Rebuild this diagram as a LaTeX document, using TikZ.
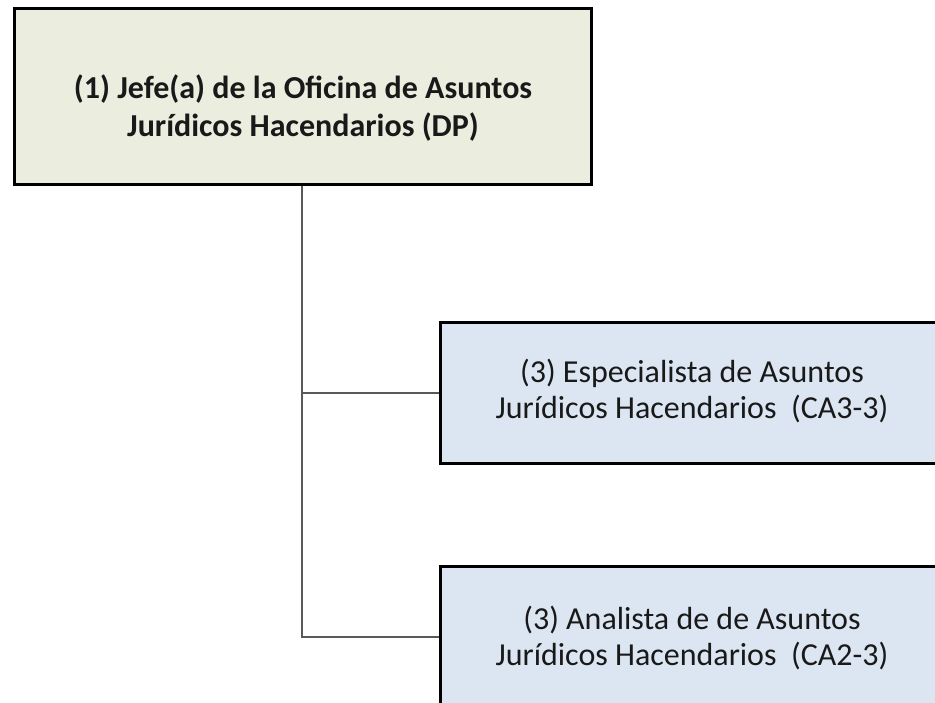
\documentclass[tikz,border=0pt]{standalone}
\usepackage{fontspec}
\setmainfont{Carlito}
\definecolor{topfill}{HTML}{EBEEDF}
\definecolor{subfill}{HTML}{DCE6F2}
\definecolor{linkgray}{HTML}{595959}
\begin{document}
\begin{tikzpicture}[x=0.75pt,y=-0.75pt,
  boxbase/.style={draw=black,line width=2.1pt,inner sep=0pt},
  topbox/.style={boxbase,fill=topfill},
  subbox/.style={boxbase,fill=subfill},
  toptext/.style={align=center,inner sep=0pt,text=black!90,font=\fontsize{24}{28}\selectfont\bfseries},
  subtext/.style={align=center,inner sep=0pt,text=black!90,font=\fontsize{24}{26.5}\selectfont},
  link/.style={draw=linkgray,line width=1.2pt}]
\useasboundingbox (0,0) rectangle (935,703);
\clip (0,0) rectangle (935,703);
\node[topbox,minimum width=577*0.75pt,minimum height=176*0.75pt,anchor=north west] (top) at (13,7) {};
\node[toptext] (toplabel) at (303,108) {(1) Jefe(a) de la Oficina de Asuntos\\Jurídicos Hacendarios (DP)};
\node[subbox,minimum width=507*0.75pt,minimum height=141*0.75pt,anchor=north west] (spec) at (439,321) {};
\node[subtext] (speclabel) at (692,391) {(3) Especialista de Asuntos\\Jurídicos Hacendarios\ \ (CA3-3)};
\node[subbox,minimum width=507*0.75pt,minimum height=141*0.75pt,anchor=north west] (anal) at (439,565) {};
\node[subtext] (anallabel) at (692,638) {(3) Analista de de Asuntos\\Jurídicos Hacendarios\ \ (CA2-3)};
\coordinate (trunk) at (302,0);
\draw[link] (top.south -| trunk) |- (anal.west);
\draw[link] (trunk |- spec.west) -- (spec.west);
\end{tikzpicture}
\end{document}
